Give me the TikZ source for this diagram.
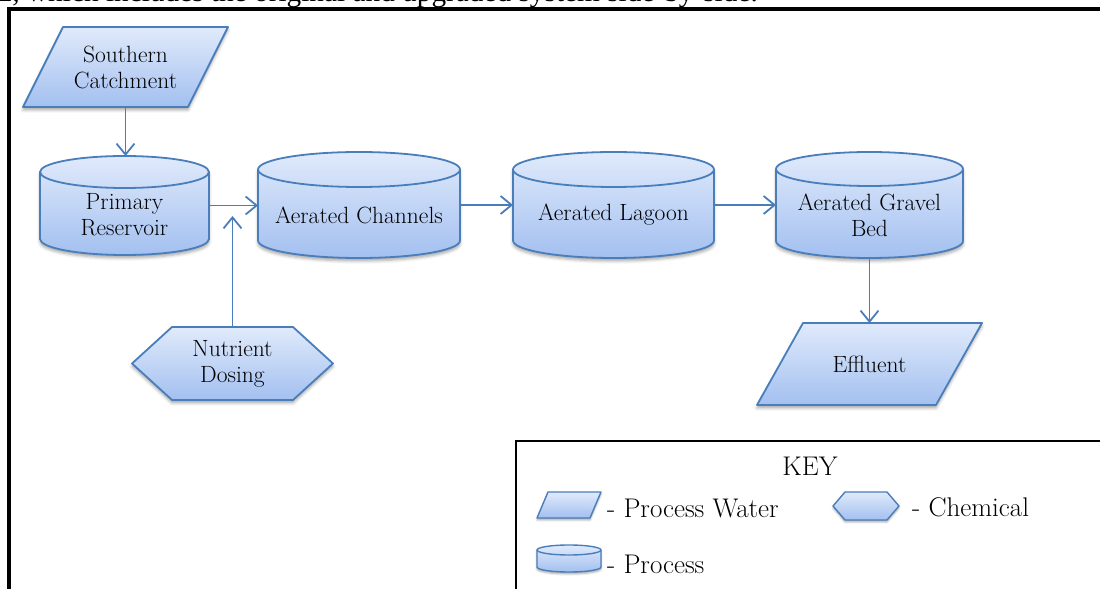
\documentclass[tikz,border=0pt]{standalone}
\usepackage{fontspec}
\newfontfamily\captionserif{Liberation Serif}
\usetikzlibrary{arrows.meta,calc,shadows.blur}

\definecolor{edgeblue}{HTML}{4A7EBB}
\definecolor{fillhi}{HTML}{E0EAFB}
\definecolor{filllo}{HTML}{A3C0F0}

\tikzset{
  x=1pt, y=1pt,
  box/.style={rectangle, inner sep=0pt, outer sep=0pt, minimum width=#1},
  blueface/.style={draw=edgeblue, line join=round, top color=fillhi, bottom color=filllo},
  shapebody/.style={blueface, line width=1.8pt,
    blur shadow={shadow xshift=0pt, shadow yshift=-3pt, shadow opacity=35, shadow blur radius=3pt}},
  iconbody/.style={blueface, line width=1.4pt,
    blur shadow={shadow xshift=0pt, shadow yshift=-2pt, shadow opacity=35, shadow blur radius=2pt}},
  rimline/.style={draw=edgeblue, line width=1.8pt},
  iconrim/.style={draw=edgeblue, line width=1.4pt},
  flow/.style={draw=edgeblue, line width=1.8pt, -{Straight Barb[length=11pt, width=18pt]}},
  lbl/.style={font=\fontsize{23.5}{26}\selectfont, align=center, inner sep=0pt},
  keytext/.style={font=\fontsize{27}{30}\selectfont, inner sep=0pt},
}

% tank (process): optional style, node, half-height of the end ellipse, rim style
\newcommand\tankshape[4][shapebody]{%
  \path[#1] let \p1=(#2.north west), \p2=(#2.south east), \n1={(\x2-\x1)/2} in
    (\x1,\y1-#3pt) -- (\x1,\y2+#3pt)
    arc[start angle=180, end angle=360, x radius=\n1, y radius=#3pt]
    -- (\x2,\y1-#3pt)
    arc[start angle=0, end angle=180, x radius=\n1, y radius=#3pt] -- cycle;
  \path[#4] let \p1=(#2.north west), \p2=(#2.south east), \n1={(\x2-\x1)/2} in
    (\x1,\y1-#3pt) arc[start angle=180, end angle=360, x radius=\n1, y radius=#3pt];
}
% parallelogram (process water): optional style, node, slant
\newcommand\slantshape[3][shapebody]{%
  \path[#1] ([xshift=#3pt]#2.north west) -- (#2.north east)
    -- ([xshift=-#3pt]#2.south east) -- (#2.south west) -- cycle;
}
% hexagon (chemical): optional style, node, indent of the points
\newcommand\hexshape[3][shapebody]{%
  \path[#1] ([xshift=#3pt]#2.north west) -- ([xshift=-#3pt]#2.north east)
    -- (#2.east) -- ([xshift=-#3pt]#2.south east)
    -- ([xshift=#3pt]#2.south west) -- (#2.west) -- cycle;
}

\begin{document}
\begin{tikzpicture}
\useasboundingbox (0,0) rectangle (1100,589);
\clip (0,0) rectangle (1100,589);

% running text of the page above the figure frame
\node[anchor=base east, inner sep=0pt] (pagetext) at (758,587)
  {\resizebox{760pt}{!}{\captionserif 2, which includes the original and upgraded system side-by-side.}};

% figure frame and key frame
\draw[line width=4.2pt] (8.8,-20) -- (8.8,580.2) -- (1120,580.2);
\draw[line width=1.8pt] (516,-20) -- (516,148) -- (1120,148);

% geometry of the flow elements
\node[box=205pt, minimum height=80pt] (sc) at (125.5,522) {};
\node[box=169pt, minimum height=99pt] (pr) at (124.5,383.5) {};
\node[box=202pt, minimum height=106pt] (ac) at (359,384) {};
\node[box=201pt, minimum height=106pt] (al) at (613.5,384) {};
\node[box=187pt, minimum height=106pt] (gb) at (869.5,384) {};
\node[box=225pt, minimum height=82pt] (ef) at (869.5,225) {};
\node[box=201pt, minimum height=73pt] (nd) at (232.5,225.5) {};

\slantshape{sc}{40}
\tankshape{pr}{16}{rimline}
\tankshape{ac}{17.5}{rimline}
\tankshape{al}{17.5}{rimline}
\tankshape{gb}{17}{rimline}
\slantshape{ef}{46}
\hexshape{nd}{40}

% connectors
\coordinate (ndtip) at ($(nd.north |- pr.east)+(0,-10.5)$);
\draw[flow] (sc.south) -- (sc.south |- pr.north);
\draw[flow] (pr.east) -- (pr.east -| ac.west);
\draw[flow] (nd.north) -- (ndtip);
\draw[flow] (ac.east) -- (al.west);
\draw[flow] (al.east) -- (gb.west);
\draw[flow] (gb.south) -- (ef.north);

% labels
\node[lbl] (sc-text) at (sc) {Southern\\Catchment};
\node[lbl] (pr-text) at ([yshift=-9.5pt]pr.center) {Primary\\Reservoir};
\node[lbl] (ac-text) at ([yshift=-10pt]ac.center) {Aerated Channels};
\node[lbl] (al-text) at ([yshift=-10pt]al.center) {Aerated Lagoon};
\node[lbl] (gb-text) at ([yshift=-10pt]gb.center) {Aerated Gravel\\Bed};
\node[lbl] (ef-text) at (ef) {Effluent};
\node[lbl] (nd-text) at (nd) {Nutrient\\Dosing};

% key
\node[keytext] (key) at (810,123) {KEY};
\node[box=64pt, minimum height=26pt] (k-water) at (569,84) {};
\node[box=66pt, minimum height=28pt] (k-chem) at (866,83) {};
\node[box=64pt, minimum height=27pt] (k-proc) at (569,30.5) {};
\slantshape[iconbody]{k-water}{11}
\hexshape[iconbody]{k-chem}{12}
\tankshape[iconbody]{k-proc}{5}{iconrim}
\node[keytext, anchor=west] (k-water-text) at (607,80.5) {- Process Water};
\node[keytext, anchor=west] (k-chem-text) at (912,82) {- Chemical};
\node[keytext, anchor=west] (k-proc-text) at (607,25) {- Process};
\end{tikzpicture}
\end{document}
